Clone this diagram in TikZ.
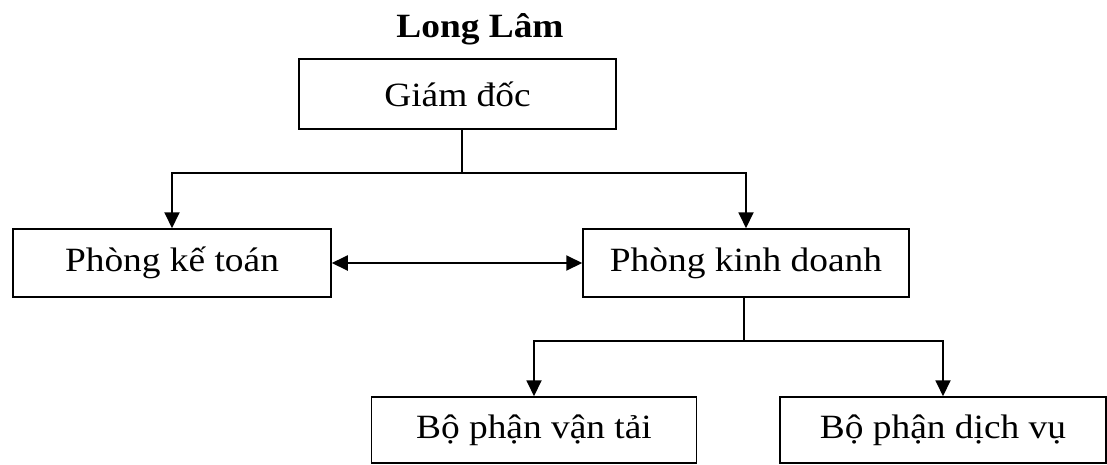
\documentclass[tikz,border=0pt]{standalone}
\usepackage{fontspec}
\setmainfont{Liberation Serif}[FakeStretch=1.1]
\usepackage{tikz}
\usetikzlibrary{calc,arrows.meta}

\tikzset{
  unitbox/.style={draw,line width=1.5pt,inner sep=0pt,minimum height=68pt,font=\fontsize{34}{40}\selectfont},
  arr/.style={line width=1.9pt,-{Triangle[length=16pt,width=15pt]}},
  dblarr/.style={line width=1.9pt,{Triangle[length=16pt,width=15pt]}-{Triangle[length=16pt,width=15pt]}}
}

\begin{document}
\begin{tikzpicture}[x=1pt,y=-1pt]
  \useasboundingbox (0,0) rectangle (1107,464);
  \node[anchor=base,font=\fontsize{34}{40}\selectfont\bfseries] (title) at (480,37) {Long Lâm};
  \node[unitbox,minimum width=317pt,minimum height=70pt] (gd) at (457.5,94) {Giám đốc};
  \node[unitbox,minimum width=318pt] (kt) at (172,263) {Phòng kế toán};
  \node[unitbox,minimum width=326pt] (kd) at (746,263) {Phòng kinh doanh};
  \node[unitbox,minimum width=325pt,minimum height=66pt] (vt) at (534,430) {Bộ phận vận tải};
  \node[unitbox,minimum width=326pt,minimum height=66pt] (dv) at (943,430) {Bộ phận dịch vụ};
  \coordinate (j1) at (462,173);
  \coordinate (j2) at (744,341);
  % giam doc xuong hai phong
  \draw[line width=1.2pt] (gd.south -| j1) -- (j1);
  \draw[arr] (j1) -| (kt.north);
  \draw[arr] (j1) -| (kd.north);
  \draw[dblarr] (kt.east) -- (kd.west);
  % phong kinh doanh xuong hai bo phan
  \draw[line width=1.2pt] (kd.south -| j2) -- (j2);
  \draw[arr] (j2) -| (vt.north);
  \draw[arr] (j2) -| (dv.north);
\end{tikzpicture}
\end{document}
